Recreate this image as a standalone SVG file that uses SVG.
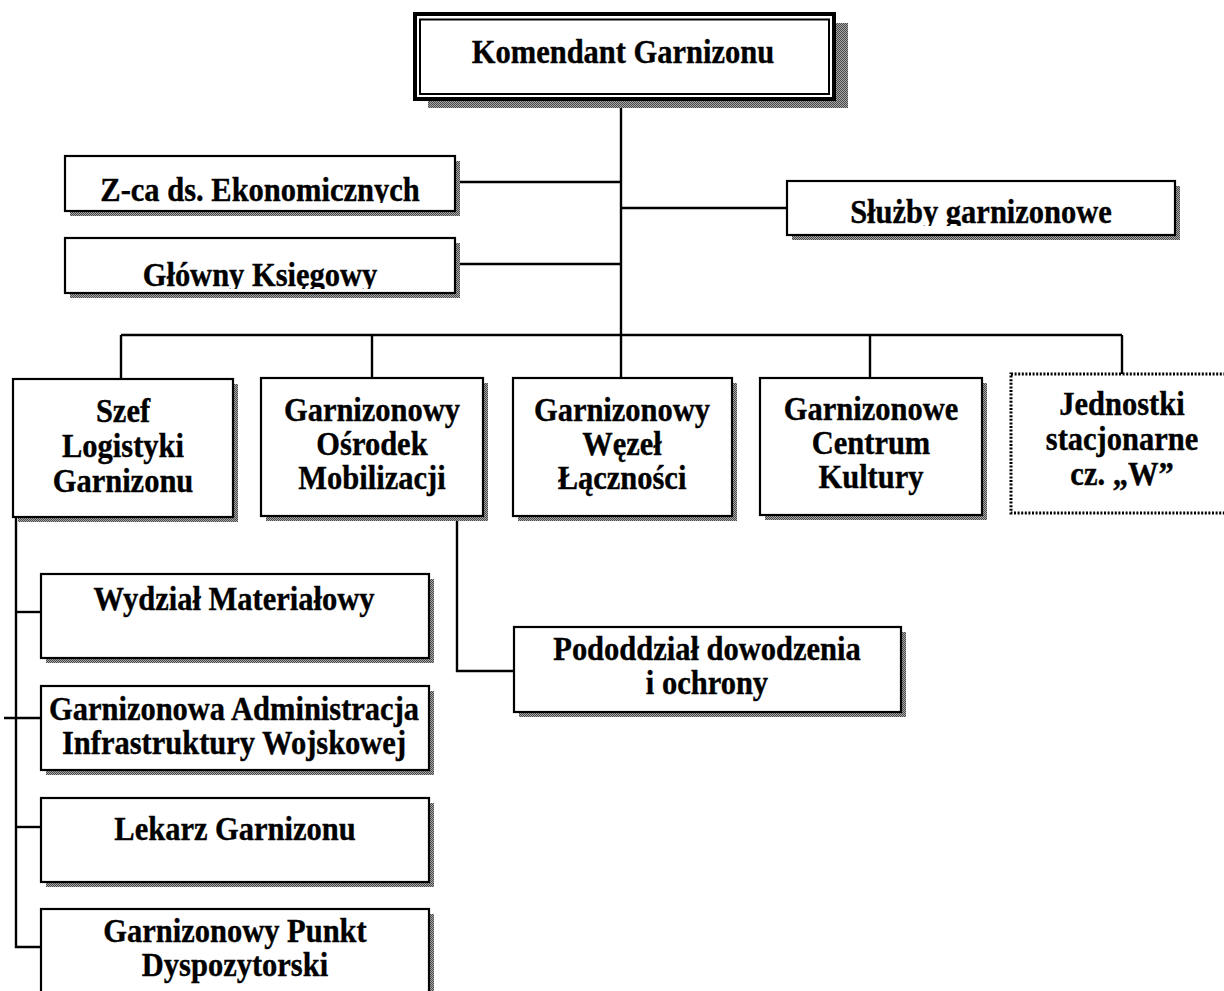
<svg xmlns="http://www.w3.org/2000/svg" width="1224" height="991" viewBox="0 0 1224 991">
  <style>
    .box { fill: #fff; stroke: #000; stroke-width: 2.2; }
    .shadow { fill: url(#halftone); stroke: none; }
    .lbl { font-family: "Liberation Serif", "Times New Roman", serif; font-weight: bold; font-size: 30.5px; text-anchor: middle; fill: #000; stroke: #000; stroke-width: 0.35; transform-box: fill-box; transform-origin: center; transform: scaleY(1.1); }
    .wire { fill: none; stroke: #000; stroke-width: 2.4; }
    .dotted { fill: #fff; stroke: #000; stroke-width: 3; stroke-dasharray: 2 1.6; }
  </style>
  <defs>
    <!-- halftone grey used for the drop shadows -->
    <pattern id="halftone" width="2" height="2" patternUnits="userSpaceOnUse">
      <rect width="2" height="2" fill="#a8a8a8"/>
      <rect width="1" height="1" fill="#4a4a4a"/>
      <rect x="1" y="1" width="1" height="1" fill="#4a4a4a"/>
    </pattern>
    <!-- text areas of the single-line boxes whose descenders are cut off -->
    <clipPath id="clip-zca"><rect x="66" y="157" width="388" height="46"/></clipPath>
    <clipPath id="clip-glowny"><rect x="66" y="239" width="388" height="50"/></clipPath>
    <clipPath id="clip-sluzby"><rect x="788" y="182" width="386" height="44"/></clipPath>
  </defs>

  <rect width="1224" height="991" fill="#fff"/>

  <!-- connectors -->
  <g id="connectors" class="wire">
    <path d="M621 101 V378"/>
    <path d="M456 182 H621"/>
    <path d="M456 264 H621"/>
    <path d="M621 208 H787"/>
    <path d="M121 335 H1122"/>
    <path d="M121 335 V379"/>
    <path d="M372 335 V378"/>
    <path d="M870 335 V378"/>
    <path d="M1122 335 V374"/>
    <path d="M457 517 V671 H514"/>
    <path d="M16 518 V947 H41"/>
    <path d="M16 612 H41"/>
    <path d="M4 718 H41"/>
    <path d="M16 827 H41"/>
  </g>

  <!-- head of the garrison -->
  <g id="komendant">
    <rect class="shadow" x="428" y="23" width="420" height="85"/>
    <rect x="415" y="14" width="419" height="85" fill="#fff" stroke="#000" stroke-width="4"/>
    <rect x="420" y="19.5" width="409" height="74.5" fill="none" stroke="#000" stroke-width="2"/>
    <text class="lbl" x="623" y="62">Komendant Garnizonu</text>
  </g>

  <g id="zca">
    <rect class="shadow" x="70" y="161" width="390" height="55"/>
    <rect class="box" x="65" y="156" width="390" height="55"/>
    <g clip-path="url(#clip-zca)">
      <text class="lbl" x="260" y="200">Z-ca ds. Ekonomicznych</text>
    </g>
  </g>

  <g id="glowny">
    <rect class="shadow" x="70" y="243" width="390" height="55"/>
    <rect class="box" x="65" y="238" width="390" height="55"/>
    <g clip-path="url(#clip-glowny)">
      <text class="lbl" x="260" y="285">Główny Księgowy</text>
    </g>
  </g>

  <g id="sluzby">
    <rect class="shadow" x="792" y="186" width="388" height="54"/>
    <rect class="box" x="787" y="181" width="388" height="54"/>
    <g clip-path="url(#clip-sluzby)">
      <text class="lbl" x="981" y="222">Służby garnizonowe</text>
    </g>
  </g>

  <g id="szef">
    <rect class="shadow" x="18" y="384" width="220" height="138"/>
    <rect class="box" x="13" y="379" width="220" height="138"/>
    <text class="lbl" x="123" y="421">Szef</text>
    <text class="lbl" x="123" y="456">Logistyki</text>
    <text class="lbl" x="123" y="491">Garnizonu</text>
  </g>

  <g id="gom">
    <rect class="shadow" x="266" y="383" width="222" height="138"/>
    <rect class="box" x="261" y="378" width="222" height="138"/>
    <text class="lbl" x="372" y="420">Garnizonowy</text>
    <text class="lbl" x="372" y="454">Ośrodek</text>
    <text class="lbl" x="372" y="488">Mobilizacji</text>
  </g>

  <g id="gwl">
    <rect class="shadow" x="518" y="383" width="219" height="138"/>
    <rect class="box" x="513" y="378" width="219" height="138"/>
    <text class="lbl" x="622" y="420">Garnizonowy</text>
    <text class="lbl" x="622" y="454">Węzeł</text>
    <text class="lbl" x="622" y="488">Łączności</text>
  </g>

  <g id="gck">
    <rect class="shadow" x="765" y="383" width="222" height="137"/>
    <rect class="box" x="760" y="378" width="222" height="137"/>
    <text class="lbl" x="871" y="419">Garnizonowe</text>
    <text class="lbl" x="871" y="453">Centrum</text>
    <text class="lbl" x="871" y="487">Kultury</text>
  </g>

  <g id="jednostki">
    <rect class="dotted" x="1011" y="374" width="230" height="139"/>
    <text class="lbl" x="1122" y="414">Jednostki</text>
    <text class="lbl" x="1122" y="449">stacjonarne</text>
    <text class="lbl" x="1122" y="484">cz. „W”</text>
  </g>

  <g id="wydzial">
    <rect class="shadow" x="46" y="579" width="388" height="84"/>
    <rect class="box" x="41" y="574" width="388" height="84"/>
    <text class="lbl" x="234" y="609">Wydział Materiałowy</text>
  </g>

  <g id="gaiw">
    <rect class="shadow" x="46" y="691" width="388" height="84"/>
    <rect class="box" x="41" y="686" width="388" height="84"/>
    <text class="lbl" x="234" y="719">Garnizonowa Administracja</text>
    <text class="lbl" x="234" y="753">Infrastruktury Wojskowej</text>
  </g>

  <g id="lekarz">
    <rect class="shadow" x="46" y="803" width="388" height="84"/>
    <rect class="box" x="41" y="798" width="388" height="84"/>
    <text class="lbl" x="235" y="839">Lekarz Garnizonu</text>
  </g>

  <g id="gpd">
    <rect class="shadow" x="46" y="914" width="388" height="100"/>
    <rect class="box" x="41" y="909" width="388" height="100"/>
    <text class="lbl" x="235" y="941">Garnizonowy Punkt</text>
    <text class="lbl" x="235" y="975">Dyspozytorski</text>
  </g>

  <g id="pododdzial">
    <rect class="shadow" x="519" y="632" width="387" height="85"/>
    <rect class="box" x="514" y="627" width="387" height="85"/>
    <text class="lbl" x="707" y="659">Pododdział dowodzenia</text>
    <text class="lbl" x="707" y="693">i ochrony</text>
  </g>
</svg>
